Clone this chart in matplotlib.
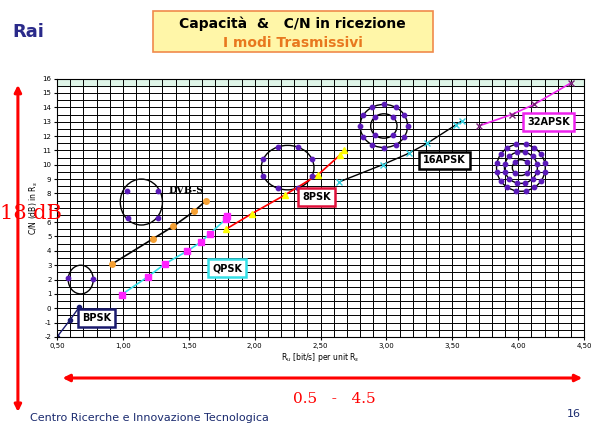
import numpy as np
import matplotlib.pyplot as plt
from matplotlib.patches import Ellipse, FancyArrowPatch, Rectangle

# curve data (Ru per unit Rs, C/N dB)
bpsk_x = [0.50, 0.60, 0.67]
bpsk_y = [-2.0, -0.8, 0.1]
dvbs_x = [0.92, 1.23, 1.38, 1.54, 1.63]
dvbs_y = [3.1, 4.85, 5.7, 6.75, 7.5]
qpsk_x = [0.99, 1.19, 1.32, 1.49, 1.59, 1.66, 1.78, 1.79]
qpsk_y = [0.95, 2.2, 3.1, 4.0, 4.6, 5.2, 6.2, 6.4]
psk8_x = [1.78, 1.98, 2.23, 2.48, 2.65, 2.68]
psk8_y = [5.5, 6.6, 7.9, 9.3, 10.7, 11.0]
apsk16_x = [2.64, 2.97, 3.17, 3.31, 3.53, 3.57]
apsk16_y = [8.8, 10.0, 10.8, 11.5, 12.8, 13.05]
apsk32_x = [3.70, 3.95, 4.12, 4.40]
apsk32_y = [12.7, 13.5, 14.2, 15.7]

fig = plt.figure(figsize=(5.97, 4.32), dpi=100)
fig.patch.set_facecolor('white')
ax = fig.add_axes([0.0955, 0.22, 0.883, 0.598])
ax.set_xlim(0.5, 4.5)
ax.set_ylim(-2, 16)
ax.set_xticks(np.arange(0.5, 4.51, 0.5))
ax.set_xticklabels([f'{v:.2f}'.replace('.', ',') for v in np.arange(0.5, 4.51, 0.5)], fontsize=5)
ax.set_yticks(range(-2, 17))
ax.set_yticklabels([str(v) for v in range(-2, 17)], fontsize=5)
ax.set_xticks(np.arange(0.5, 4.5, 0.1), minor=True)
ax.set_yticks(np.arange(-2, 16, 0.5), minor=True)
ax.tick_params(length=2, pad=2)
ax.tick_params(which='minor', length=0)
ax.grid(True, which='both', color='black', lw=0.7)
ax.axhspan(15.5, 16, color='#dff5e8', zorder=0)

ax.plot(bpsk_x, bpsk_y, '-o', color='#1a1a6e', ms=3, lw=1)
ax.plot(dvbs_x, dvbs_y, '-o', color='black', mfc='#f5a033', mec='#f5a033', ms=4, lw=1.2)
ax.plot(qpsk_x, qpsk_y, '-s', color='#33e0e8', mfc='#ff22ff', mec='#ff22ff', ms=5, lw=1.2)
ax.plot(psk8_x, psk8_y, '-^', color='red', mfc='yellow', mec='yellow', ms=4, lw=1.2)
ax.plot(apsk16_x, apsk16_y, '-x', color='black', mec='#33d0e0', ms=5, lw=1)
ax.plot(apsk32_x, apsk32_y, '-x', color='#ee22ee', mec='#772277', ms=5, lw=1.2)

# constellation sketches
dot = dict(color='#5a1ab8', s=10, zorder=5)
ax.add_patch(Ellipse((0.68, 2.0), 0.19, 2.0, fill=False, lw=1))
ax.scatter([0.58, 0.77], [2.1, 2.05], **dot)
ax.add_patch(Ellipse((1.14, 7.4), 0.32, 3.2, fill=False, lw=1))
ax.scatter([1.03, 1.27, 1.04, 1.27], [8.2, 8.2, 6.3, 6.3], **dot)
ax.add_patch(Ellipse((2.25, 9.8), 0.4, 3.1, fill=False, lw=1))
ang = np.arange(8) * np.pi / 4 + np.pi / 8
ax.scatter(2.25 + 0.2 * np.cos(ang), 9.8 + 1.55 * np.sin(ang), **dot)
ax.add_patch(Ellipse((2.98, 12.7), 0.36, 3.0, fill=False, lw=1))
ax.add_patch(Ellipse((2.98, 12.7), 0.2, 1.7, fill=False, lw=1))
ang = np.arange(12) * np.pi / 6
ax.scatter(2.98 + 0.18 * np.cos(ang), 12.7 + 1.5 * np.sin(ang), **dot)
ang = np.arange(4) * np.pi / 2 + np.pi / 4
ax.scatter(2.98 + 0.1 * np.cos(ang), 12.7 + 0.85 * np.sin(ang), **dot)
for w, h, n in [(0.37, 3.3, 16), (0.25, 2.2, 12), (0.13, 1.1, 4)]:
    ax.add_patch(Ellipse((4.02, 9.8), w, h, fill=False, lw=1))
    ang = np.arange(n) * 2 * np.pi / n + np.pi / n
    ax.scatter(4.02 + w / 2 * np.cos(ang), 9.8 + h / 2 * np.sin(ang), **dot)

def label(x, y, s, ec):
    ax.text(x, y, s, fontsize=7, fontweight='bold', ha='center', va='center', zorder=6,
            bbox=dict(boxstyle='square,pad=0.4', fc='white', ec=ec, lw=1.8))

label(0.80, -0.7, 'BPSK', '#1a1a6e')
label(1.79, 2.8, 'QPSK', '#33e0e8')
label(2.47, 7.75, '8PSK', '#e0103a')
label(3.44, 10.3, '16APSK', 'black')
label(4.23, 13.0, '32APSK', '#ee22ee')
ax.text(1.48, 8.0, 'DVB-S', fontsize=7, family='DejaVu Serif', fontweight='bold', ha='center')

ax.set_xlabel('R$_u$ [bit/s] per unit R$_s$', fontsize=5.5, labelpad=2)
ax.set_ylabel('C/N (dB) in R$_s$', fontsize=5.5, labelpad=2)

# slide decorations
fig.add_artist(Rectangle((0.256, 0.88), 0.47, 0.095, transform=fig.transFigure,
                         fc='#fff6a8', ec='#f08a4b', lw=1.2))
fig.text(0.49, 0.945, 'Capacità  &   C/N in ricezione', ha='center', va='center',
         fontsize=10, fontweight='bold')
fig.text(0.49, 0.9, 'I modi Trasmissivi', ha='center', va='center',
         fontsize=10, fontweight='bold', color='#e8781e')
fig.text(0.02, 0.925, 'Rai', fontsize=13, fontweight='bold', color='#2a2a8a', va='center')
fig.add_artist(FancyArrowPatch((0.03, 0.81), (0.03, 0.04), transform=fig.transFigure,
                               arrowstyle='<|-|>', mutation_scale=10, color='red', lw=2.2))
fig.text(0.0, 0.505, '18 dB', fontsize=15, family='DejaVu Serif', color='red', va='center')
fig.add_artist(FancyArrowPatch((0.1, 0.125), (0.98, 0.125), transform=fig.transFigure,
                               arrowstyle='<|-|>', mutation_scale=10, color='red', lw=2.2))
fig.text(0.56, 0.068, '0.5   -   4.5', fontsize=11, family='DejaVu Serif', color='red', ha='center')
fig.text(0.05, 0.025, 'Centro Ricerche e Innovazione Tecnologica', fontsize=8, color='#1a2a6e')
fig.text(0.95, 0.035, '16', fontsize=8, color='#1a2a6e')

fig.savefig('out.png', dpi=100)
